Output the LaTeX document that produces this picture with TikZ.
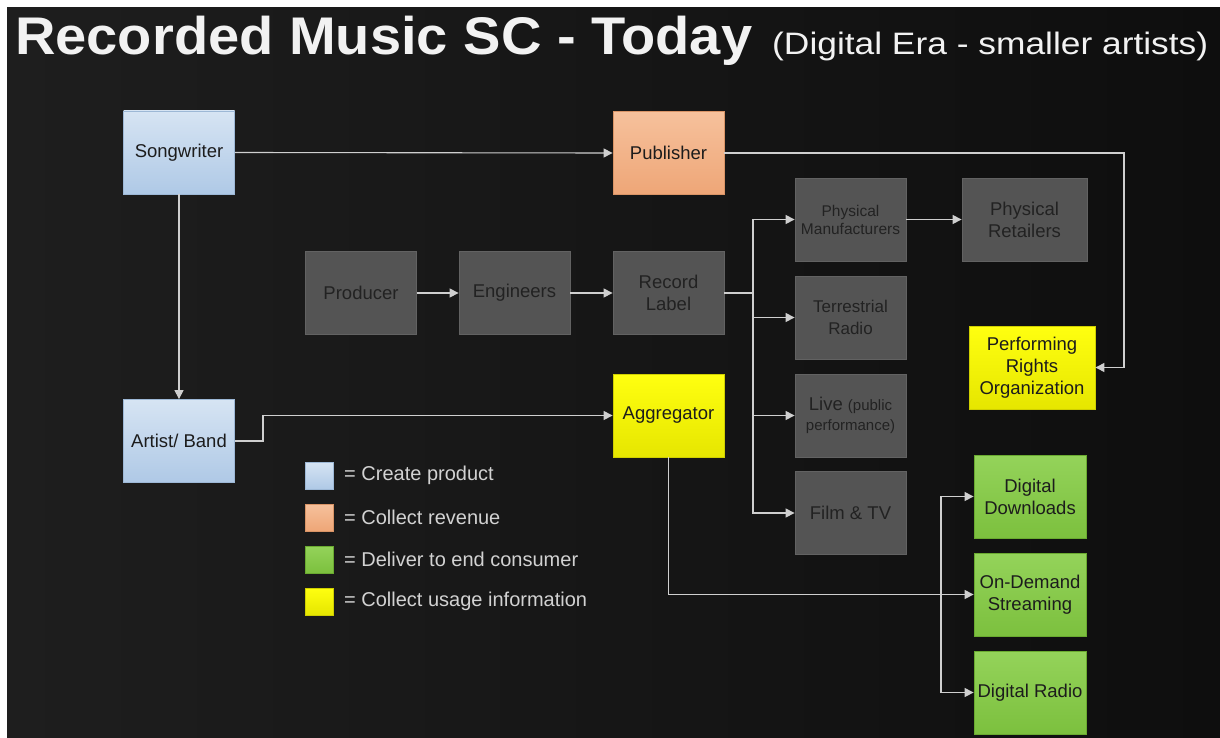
\documentclass[tikz,border=0pt]{standalone}
\usepackage{fontspec}
\usepackage{graphicx}
\setmainfont{Liberation Sans}
\usetikzlibrary{arrows.meta}

\definecolor{bgA}{HTML}{1E1E1E}
\definecolor{bgB}{HTML}{0E0E0E}
\definecolor{wire}{HTML}{CFCFCF}
\definecolor{blueT}{HTML}{D6E4F3}
\definecolor{blueB}{HTML}{AFC9E6}
\definecolor{blueE}{HTML}{9DB8D6}
\definecolor{orT}{HTML}{F6C19C}
\definecolor{orB}{HTML}{EEA677}
\definecolor{orE}{HTML}{D99466}
\definecolor{yeT}{HTML}{FFFF10}
\definecolor{yeB}{HTML}{E6E600}
\definecolor{yeE}{HTML}{CFCF00}
\definecolor{grT}{HTML}{94D35A}
\definecolor{grB}{HTML}{7CC03E}
\definecolor{grE}{HTML}{6AAA30}
\definecolor{gyF}{HTML}{545454}
\definecolor{gyE}{HTML}{626262}
\definecolor{gyText}{HTML}{222222}
\definecolor{ink}{HTML}{1C1C1C}
\definecolor{legendText}{HTML}{D2D2D2}
\definecolor{titleText}{HTML}{F2F2F2}

\tikzset{
  box/.style={rectangle, inner sep=0pt, align=center, line width=0.8pt,
    minimum width=111pt, minimum height=83pt, font=\fontsize{18.5}{22}\selectfont},
  bluebox/.style={box, draw=blueE, top color=blueT, bottom color=blueB, text=ink},
  orangebox/.style={box, draw=orE, top color=orT, bottom color=orB, text=ink},
  yellowbox/.style={box, draw=yeE, top color=yeT, bottom color=yeB, text=ink},
  greenbox/.style={box, draw=grE, top color=grT, bottom color=grB, text=ink},
  greybox/.style={box, draw=gyE, fill=gyF, text=gyText},
  arr/.style={draw=wire, line width=1.1pt, -{Triangle[length=9pt,width=9pt]}},
  wireline/.style={draw=wire, line width=1.1pt},
  swatch/.style={rectangle, inner sep=0pt, minimum width=28pt, minimum height=27pt, line width=0.6pt},
  legendlabel/.style={anchor=west, inner sep=0pt, text=legendText, font=\fontsize{20}{24}\selectfont},
}

\begin{document}
\begin{tikzpicture}[x=1pt, y=-1pt]
  % page and dark backdrop
  \fill[white] (0,0) rectangle (1220,738);
  \useasboundingbox (0,0) rectangle (1220,738);
  \shade[left color=bgA, right color=bgB] (7,8) rectangle (1220,738);

  % heading
  \node[anchor=base west, inner sep=0pt, text=titleText,
        font=\fontsize{53}{58}\selectfont\bfseries] (title) at (15,55)
        {\resizebox{737pt}{\height}{Recorded Music SC - Today}};
  \node[anchor=base west, inner sep=0pt, text=titleText,
        font=\fontsize{31}{35}\selectfont] (subtitle) at (772,55)
        {\resizebox{436pt}{\height}{(Digital Era - smaller artists)}};

  % creators and rights
  \node[bluebox]   (sw)   at (179,152.5) {Songwriter};
  \node[bluebox]   (ab)   at (179,441)   {Artist/ Band};
  \node[orangebox] (pub)  at (668.5,153) {Publisher};

  % recording chain
  \node[greybox] (prod) at (361,293)   {Producer};
  \node[greybox] (eng)  at (514.5,293) {Engineers};
  \node[greybox] (rl)   at (668.5,293) {Record\\Label};
  \node[yellowbox] (agg) at (668.5,415.5) {Aggregator};

  % outlets
  \node[greybox, font=\fontsize{15.5}{18}\selectfont] (pm) at (850.5,219.5) {Physical\\Manufacturers};
  \node[greybox, minimum width=125pt] (pr) at (1024.5,219.5) {Physical\\Retailers};
  \node[greybox, font=\fontsize{17}{22}\selectfont] (tr) at (850.5,317.5) {Terrestrial\\Radio};
  \node[greybox] (live) at (850.5,415.5)
      {Live {\fontsize{15}{18}\selectfont (public}\\[-2pt]{\fontsize{15}{18}\selectfont performance)}};
  \node[greybox] (film) at (850.5,513) {Film \& TV};
  \node[yellowbox, minimum width=126pt] (pro) at (1032,367.5) {Performing\\Rights\\Organization};

  % digital delivery
  \node[greenbox, minimum width=112pt] (dd)  at (1030,496.5) {Digital\\Downloads};
  \node[greenbox, minimum width=112pt] (ods) at (1030,594.5) {On-Demand\\Streaming};
  \node[greenbox, minimum width=112pt] (dr)  at (1030,692.5) {Digital Radio};

  % junction points
  \coordinate (rj) at (753,293);
  \coordinate (pj) at (1124,367.5);
  \coordinate (aj) at (263,441);
  \coordinate (dj) at (941,594.5);

  % connectors
  \draw[arr] (sw.east) -- (pub.west);
  \draw[arr] (sw.south) -- (ab.north);
  \draw[arr] (ab.east) -- (aj) |- (agg.west);
  \draw[arr] (prod.east) -- (eng.west);
  \draw[arr] (eng.east) -- (rl.west);
  \draw[wireline] (rl.east) -- (rj);
  \draw[arr] (rj) |- (pm.west);
  \draw[arr] (rj) |- (tr.west);
  \draw[arr] (rj) |- (live.west);
  \draw[arr] (rj) |- (film.west);
  \draw[arr] (pm.east) -- (pr.west);
  \draw[arr] (pub.east) -| (pj) -- (pro.east);
  \draw[arr] (agg.south) |- (ods.west);
  \draw[arr] (dj) |- (dd.west);
  \draw[arr] (dj) |- (dr.west);

  % legend
  \node[swatch, draw=blueE, top color=blueT, bottom color=blueB] (k1) at (319,475.5) {};
  \node[swatch, draw=orE, top color=orT, bottom color=orB]     (k2) at (319,517.5) {};
  \node[swatch, draw=grE, top color=grT, bottom color=grB]     (k3) at (319,559.5) {};
  \node[swatch, draw=yeE, top color=yeT, bottom color=yeB]     (k4) at (319,601.5) {};
  \node[legendlabel] (l1) at (344,475.5) {= Create product};
  \node[legendlabel] (l2) at (344,517.5) {= Collect revenue};
  \node[legendlabel] (l3) at (344,559.5) {= Deliver to end consumer};
  \node[legendlabel] (l4) at (344,601.5) {= Collect usage information};
\end{tikzpicture}
\end{document}
